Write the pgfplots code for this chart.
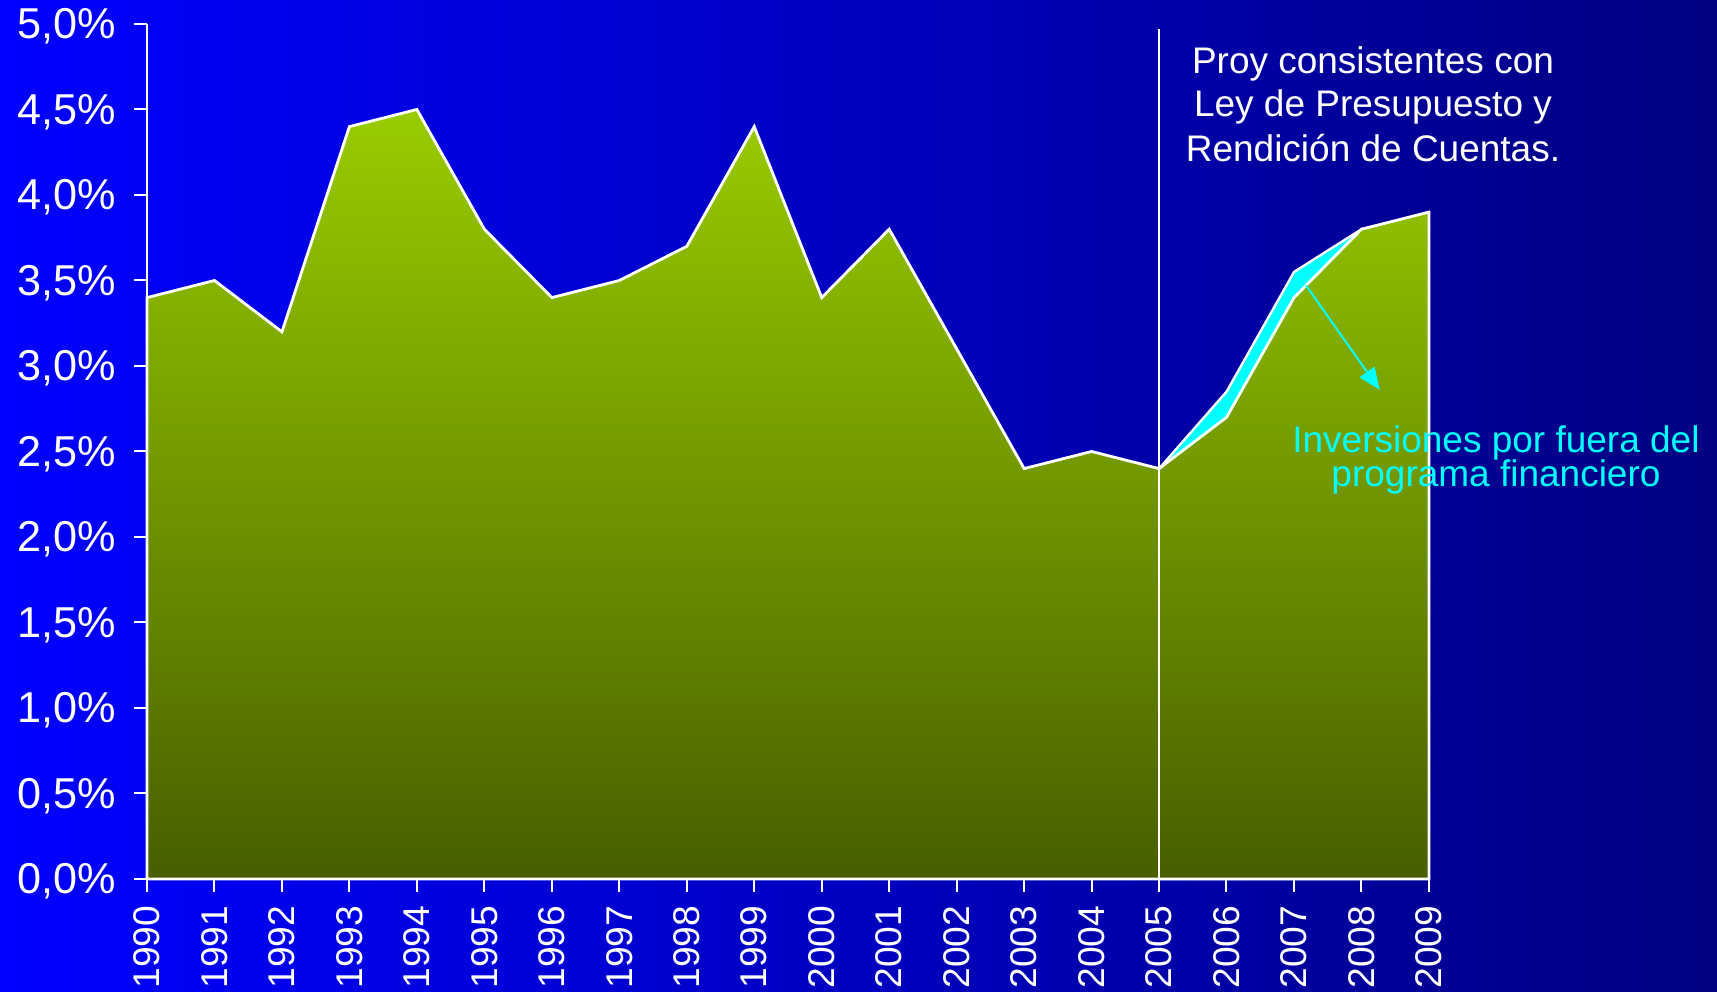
\documentclass[border=0pt]{standalone}
\usepackage{fontspec}
\setmainfont{Liberation Sans}
\usepackage{pgfplots}
\pgfplotsset{compat=1.18}
\usetikzlibrary{arrows.meta}

\definecolor{bgleft}{RGB}{0,0,255}
\definecolor{bgright}{RGB}{0,0,128}
\definecolor{gtop}{RGB}{153,204,0}
\definecolor{gbot}{RGB}{72,94,0}
\definecolor{cyanfill}{RGB}{0,255,255}

\begin{document}
\begin{tikzpicture}
% background, 1717 x 992 px at 0.25pt per px
\shade[left color=bgleft, right color=bgright] (0,0) rectangle (429.25pt,248pt);

\begin{axis}[
    at={(36.75pt,28.25pt)}, anchor=south west,
    scale only axis, width=320.5pt, height=213.75pt,
    xmin=1990, xmax=2009, ymin=0, ymax=5,
    axis lines*=left,
    axis line style={white, line width=0.5pt},
    xtick={1990,...,2009},
    ytick={0,0.5,1,1.5,2,2.5,3,3.5,4,4.5,5},
    tick align=outside, major tick length=3.2pt,
    tick style={white, line width=0.5pt},
    /pgf/number format/assume math mode=true,
    xticklabel style={rotate=90, anchor=east, text=white,
      font=\fontsize{9.3}{10}\selectfont,
      /pgf/number format/set thousands separator={}},
    yticklabel style={text=white, xshift=-1pt, yshift=-0.6pt,
      font=\fontsize{10.8}{12}\selectfont},
    yticklabel={\pgfmathprintnumber[fixed, fixed zerofill, precision=1, use comma]{\tick}\%},
    clip=false,
  ]
  % inversiones por fuera del programa financiero (upper edge)
  \addplot[draw=white, line width=0.6pt, fill=cyanfill] coordinates {
    (2005,2.40) (2006,2.85) (2007,3.55) (2008,3.80)
  } \closedcycle;
  % serie principal
  \addplot[draw=white, line width=0.7pt, top color=gtop, bottom color=gbot] coordinates {
    (1990,3.40) (1991,3.50) (1992,3.20) (1993,4.40) (1994,4.50)
    (1995,3.80) (1996,3.40) (1997,3.50) (1998,3.70) (1999,4.40)
    (2000,3.40) (2001,3.80) (2002,3.10) (2003,2.40) (2004,2.50)
    (2005,2.40) (2006,2.70) (2007,3.40) (2008,3.80) (2009,3.90)
  } \closedcycle;
  % linea de proyecciones
  \draw[white, line width=0.5pt] (axis cs:2005,-0.07) -- (axis cs:2005,4.97);
  % flecha
  \draw[cyanfill, line width=0.5pt, -{Triangle[length=5.5pt,width=4.5pt]}]
    (axis cs:2007.18,3.47) -- (axis cs:2008.27,2.86);
\end{axis}

% textos, en coordenadas de pixel
\begin{scope}[x=0.25pt, y=-0.25pt, yshift=248pt]
  \begin{scope}[every node/.style={anchor=base, inner sep=0pt, text=white,
      font=\fontsize{9.25}{11}\selectfont}]
    \node at (1373,74) {Proy consistentes con};
    \node at (1373,117) {Ley de Presupuesto y};
    \node at (1373,162) {Rendición de Cuentas.};
  \end{scope}
  \begin{scope}[every node/.style={anchor=base, inner sep=0pt, text=cyanfill,
      font=\fontsize{9.25}{11}\selectfont}]
    \node at (1496,453) {Inversiones por fuera del};
    \node at (1496,487) {programa financiero};
  \end{scope}
\end{scope}

\pgfresetboundingbox
\path[use as bounding box] (0,0) rectangle (429.25pt,248pt);
\end{tikzpicture}
\end{document}
